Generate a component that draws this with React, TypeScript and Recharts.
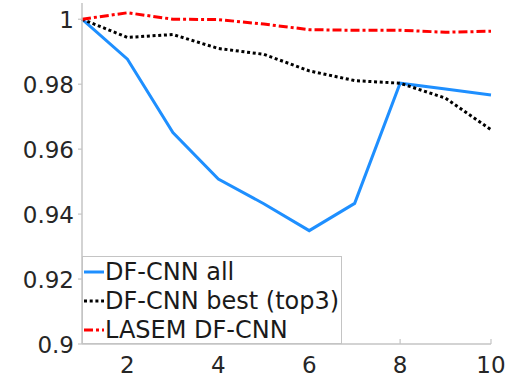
import React from "react";
import { LineChart, Line, XAxis, YAxis, Legend } from "recharts";

// Number of fused CNN models (x) vs. normalised accuracy (y)
const steps = [1, 2, 3, 4, 5, 6, 7, 8, 9, 10];
const dfCnnAll = [1.0, 0.9877, 0.9651, 0.9508, 0.9432, 0.9349, 0.9433, 0.9803, 0.9785, 0.9767];
const dfCnnBest = [1.0, 0.9944, 0.9953, 0.991, 0.9892, 0.9841, 0.9811, 0.9803, 0.9757, 0.966];
const lasemDfCnn = [1.0, 1.002, 1.0, 0.9999, 0.9985, 0.9968, 0.9966, 0.9966, 0.996, 0.9963];

const xTicks = [2, 4, 6, 8, 10];
const yTicks = [0.9, 0.92, 0.94, 0.96, 0.98, 1];
const yTickLabels = ["0.9", "0.92", "0.94", "0.96", "0.98", "1"];

const seriesNames = ["DF-CNN all", "DF-CNN best (top3)", "LASEM DF-CNN"];
const seriesColors = ["#1E8FFF", "#000000", "#FF0000"];
const seriesDash = [undefined, "3 2.7", "9 3 3 3"];
const seriesKeys = ["all", "best", "lasem"];

const data = steps.map((s, i) => ({
  step: s,
  all: dfCnnAll[i],
  best: dfCnnBest[i],
  lasem: lasemDfCnn[i],
}));

const FONT = "'DejaVu Sans', sans-serif";
const AXIS_COLOR = "#c4c4c4";
const TEXT_COLOR = "#262626";

const XTick = (props: any) => {
  const { x, y, payload } = props;
  return (
    <g>
      <line x1={x} x2={x} y1={y} y2={y - 5} stroke={AXIS_COLOR} strokeWidth={1.2} />
      <text x={x} y={y + 29} textAnchor="middle" fontFamily={FONT} fontSize={23} fill={TEXT_COLOR}>
        {payload.value}
      </text>
    </g>
  );
};

const YTick = (props: any) => {
  const { x, y, payload } = props;
  const idx = yTicks.findIndex((t) => Math.abs(t - payload.value) < 1e-9);
  return (
    <g>
      <line x1={x} x2={x - 4} y1={y} y2={y} stroke={AXIS_COLOR} strokeWidth={1.2} />
      <text x={x - 8} y={y + 9} textAnchor="end" fontFamily={FONT} fontSize={23} fill={TEXT_COLOR}>
        {idx >= 0 ? yTickLabels[idx] : payload.value}
      </text>
    </g>
  );
};

const LegendBox = () => (
  <div
    style={{
      width: 260,
      height: 88,
      boxSizing: "border-box",
      border: `1px solid ${AXIS_COLOR}`,
      background: "#ffffff",
      paddingTop: 1,
    }}
  >
    {seriesNames.map((name, i) => (
      <div
        key={name}
        style={{ display: "flex", alignItems: "center", height: 28.8, whiteSpace: "nowrap" }}
      >
        <svg width={22} height={10} style={{ display: "block" }}>
          <line
            x1={1}
            x2={21}
            y1={5}
            y2={5}
            stroke={seriesColors[i]}
            strokeWidth={3}
            strokeDasharray={seriesDash[i]}
          />
        </svg>
        <span style={{ fontFamily: FONT, fontSize: 24, color: "#1a1a1a", lineHeight: "28px" }}>
          {name}
        </span>
      </div>
    ))}
  </div>
);

export default function App() {
  return (
    <div style={{ position: "absolute", left: 0, top: 0, background: "#fff" }}>
      <LineChart
        width={517}
        height={377}
        data={data}
        margin={{ top: 3, right: 26, bottom: 0, left: 0 }}
      >
        <XAxis
          dataKey="step"
          type="number"
          domain={[1, 10]}
          ticks={xTicks}
          height={33}
          tickSize={0}
          tickMargin={0}
          tickLine={false}
          axisLine={{ stroke: AXIS_COLOR, strokeWidth: 1.5 }}
          tick={<XTick />}
          interval={0}
        />
        <YAxis
          type="number"
          domain={[0.9, 1.005]}
          ticks={yTicks}
          width={82}
          tickSize={0}
          tickMargin={0}
          tickLine={false}
          axisLine={{ stroke: AXIS_COLOR, strokeWidth: 1.5 }}
          tick={<YTick />}
          interval={0}
          allowDataOverflow
        />
        {seriesKeys.map((k, i) => (
          <Line
            key={k}
            dataKey={k}
            name={seriesNames[i]}
            type="linear"
            stroke={seriesColors[i]}
            strokeWidth={3}
            strokeDasharray={seriesDash[i]}
            dot={false}
            activeDot={false}
            isAnimationActive={false}
          />
        ))}
        <Legend
          layout="horizontal"
          verticalAlign="middle"
          align="center"
          content={<LegendBox />}
          wrapperStyle={{ position: "absolute", left: 82, top: 256, width: 260, height: 88 }}
        />
      </LineChart>
    </div>
  );
}
